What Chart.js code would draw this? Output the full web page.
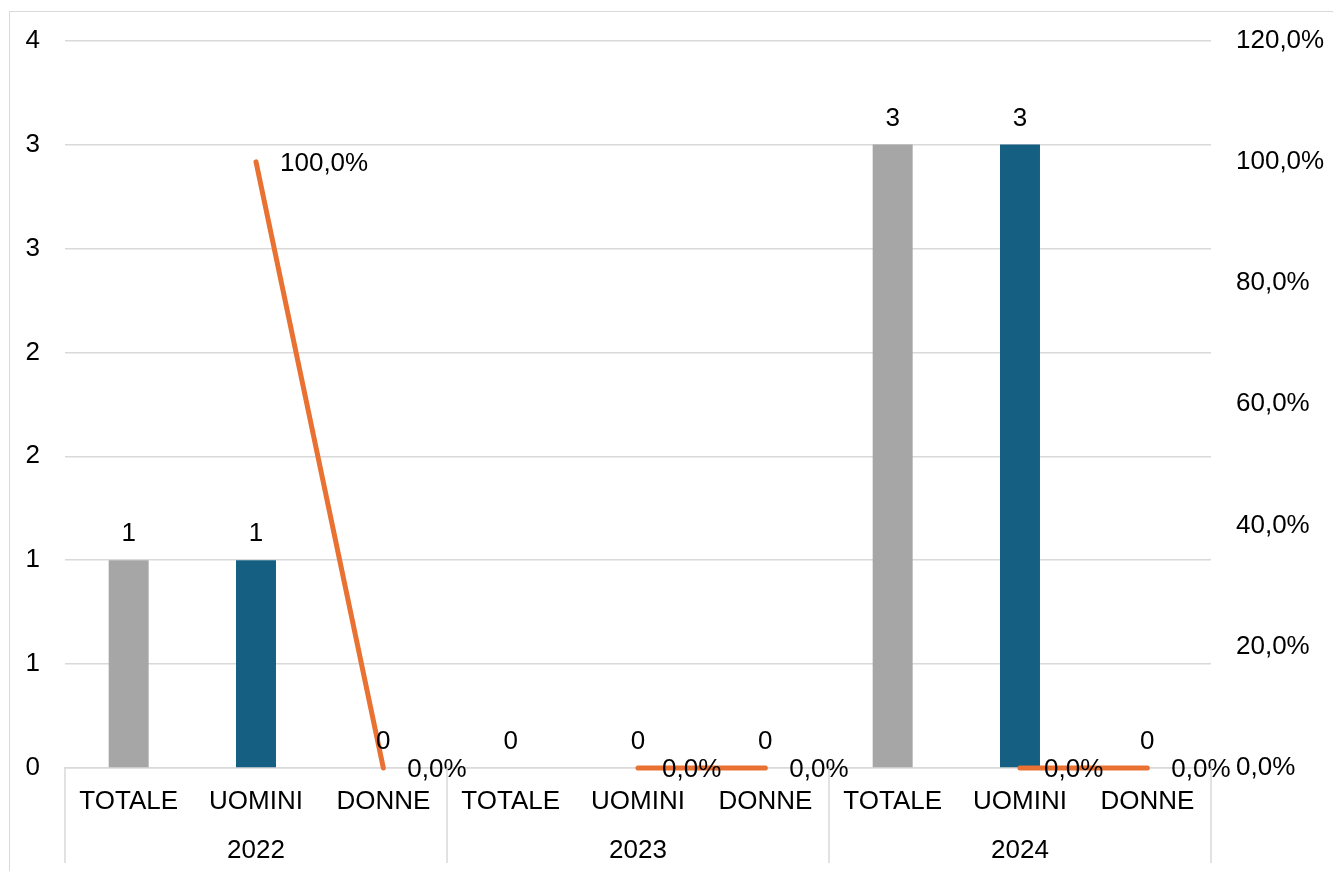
<!DOCTYPE html>
<html>
<head>
<meta charset="utf-8">
<script src="https://cdn.jsdelivr.net/npm/chart.js@4"></script>
<style>
  html, body { margin: 0; padding: 0; background: #fff; overflow: hidden; }
  #wrap { position: relative; width: 1333px; height: 871px; }
  #frame { position: absolute; left: 9px; top: 11px; width: 1400px; height: 900px; border: 1px solid #d9d9d9; }
  #chart { position: absolute; left: 0; top: 0; }
</style>
</head>
<body>
<div id="wrap">
  <div id="frame"></div>
  <canvas id="chart" width="1333" height="871"></canvas>
</div>
<script>
// data
var categories = ["TOTALE", "UOMINI", "DONNE", "TOTALE", "UOMINI", "DONNE", "TOTALE", "UOMINI", "DONNE"];
var years = ["2022", "2023", "2024"];
var counts = [1, 1, 0, 0, 0, 0, 3, 3, 0];
var percents = [null, 100, 0, null, 0, 0, null, 0, 0];
var leftTicks = ["0", "1", "1", "2", "2", "3", "3", "4"];
var rightTicks = ["0,0%", "20,0%", "40,0%", "60,0%", "80,0%", "100,0%", "120,0%"];

var kindColors = { TOTALE: "#a6a6a6", UOMINI: "#156082", DONNE: "#e97132" };

Chart.defaults.font.family = "'Liberation Sans', Arial, sans-serif";
Chart.defaults.font.size = 26;
Chart.defaults.color = "#000";

// vertical separators between the year groups, below the axis
var groupLines = {
  id: "groupLines",
  afterDraw(chart) {
    var x = chart.scales.x, ctx = chart.ctx;
    var step = (x.right - x.left) / categories.length;
    var per = categories.length / years.length;
    ctx.save();
    ctx.strokeStyle = "#d9d9d9";
    ctx.lineWidth = 1.5;
    for (var g = 0; g <= years.length; g++) {
      var px = x.left + g * per * step;
      ctx.beginPath();
      ctx.moveTo(px, x.top);
      ctx.lineTo(px, x.top + 95);
      ctx.stroke();
    }
    ctx.restore();
  }
};

// value labels for bars and line
var valueLabels = {
  id: "valueLabels",
  afterDatasetsDraw(chart) {
    var ctx = chart.ctx;
    ctx.save();
    ctx.font = "26px 'Liberation Sans', Arial, sans-serif";
    ctx.fillStyle = "#000";
    ctx.textBaseline = "middle";

    ctx.textAlign = "center";
    chart.getDatasetMeta(1).data.forEach(function (bar, i) {
      ctx.fillText(String(counts[i]), bar.x, bar.y - 26);
    });

    ctx.textAlign = "left";
    chart.getDatasetMeta(0).data.forEach(function (pt, i) {
      if (percents[i] === null) return;
      ctx.fillText(percents[i].toFixed(1).replace(".", ",") + "%", pt.x + 24, pt.y + 2);
    });
    ctx.restore();
  }
};

new Chart("chart", {
  type: "bar",
  data: {
    labels: categories.map(function (c, i) {
      return [c, i % 3 === 1 ? years[(i - 1) / 3] : ""];
    }),
    datasets: [
      {
        type: "line",
        data: percents,
        yAxisID: "y1",
        borderColor: "#e97132",
        borderWidth: 5,
        borderCapStyle: "round",
        pointRadius: 0,
        tension: 0,
        spanGaps: false,
        clip: false,
        order: 0
      },
      {
        type: "bar",
        data: counts,
        yAxisID: "y",
        backgroundColor: categories.map(function (c) { return kindColors[c]; }),
        barPercentage: 0.314,
        categoryPercentage: 1,
        order: 1
      }
    ]
  },
  options: {
    responsive: false,
    animation: false,
    layout: { padding: { left: 0, right: 0, top: 25, bottom: 0 } },
    plugins: { legend: { display: false }, tooltip: { enabled: false } },
    scales: {
      x: {
        grid: { display: false, drawTicks: false },
        border: { color: "#d9d9d9", width: 1.5 },
        ticks: { font: { size: 26, lineHeight: 1.9 }, padding: 9, autoSkip: false, maxRotation: 0 },
        afterFit: function (s) { s.height = 103; }
      },
      y: {
        position: "left",
        min: 0,
        max: 3.5,
        ticks: { stepSize: 0.5, padding: 25, callback: function (v, i) { return leftTicks[i]; } },
        grid: { color: "#d9d9d9", lineWidth: 1.5, drawTicks: false },
        border: { display: false },
        afterFit: function (s) { s.width = 65; }
      },
      y1: {
        position: "right",
        min: 0,
        max: 120,
        ticks: { stepSize: 20, padding: 25, callback: function (v, i) { return rightTicks[i]; } },
        grid: { display: false, drawTicks: false },
        border: { display: false },
        afterFit: function (s) { s.width = 122; }
      }
    }
  },
  plugins: [groupLines, valueLabels]
});
</script>
</body>
</html>
